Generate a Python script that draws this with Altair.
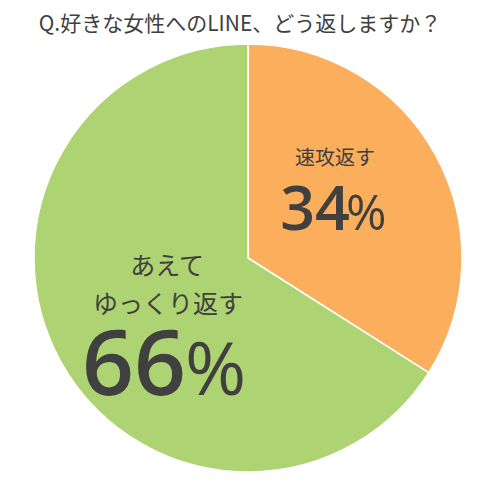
import altair as alt
import pandas as pd

categories = ["速攻返す", "あえてゆっくり返す"]
values = [34, 66]
colors = ["#FBAE5C", "#ADD372"]
title_text = "Q.好きな女性へのLINE、どう返しますか？"

df = pd.DataFrame({"cat": categories, "val": values, "ord": [0, 1]})

FONT = "Noto Sans CJK JP"
NUMFONT = "Open Sans"
TXT = "#404040"

pie = alt.Chart(df).mark_arc(outerRadius=214, stroke="white", strokeWidth=1.5).encode(
    theta=alt.Theta("val:Q", stack=True),
    color=alt.Color("cat:N", scale=alt.Scale(domain=categories, range=colors), legend=None),
    order=alt.Order("ord:Q"),
    x=alt.value(240),
    y=alt.value(250),
)

def label(text, x, y, size, baseline="middle", align="center", font=FONT, weight="normal"):
    return alt.Chart(pd.DataFrame({"t": [text]})).mark_text(
        font=font, fontSize=size, color=TXT, align=align, baseline=baseline, fontWeight=weight
    ).encode(text="t:N", x=alt.value(x), y=alt.value(y))

layers = [
    pie,
    label(title_text, 232, 17, 21),
    label("速攻返す", 327, 151, 20),
    label(f"{values[0]}", 342, 222, 61, "alphabetic", "right", NUMFONT, 600),
    label("%", 338, 222, 49, "alphabetic", "left", NUMFONT),
    label("あえて", 159, 259, 25),
    label("ゆっくり返す", 160, 297, 25),
    label(f"{values[1]}", 178, 387, 91, "alphabetic", "right", NUMFONT, 600),
    label("%", 177, 387, 74, "alphabetic", "left", NUMFONT),
]

chart = alt.layer(*layers).properties(
    width=481, height=475, autosize="none", padding=0
).configure_view(stroke=None)

chart.save("out.html", embed_options={"renderer": "svg", "actions": False})
